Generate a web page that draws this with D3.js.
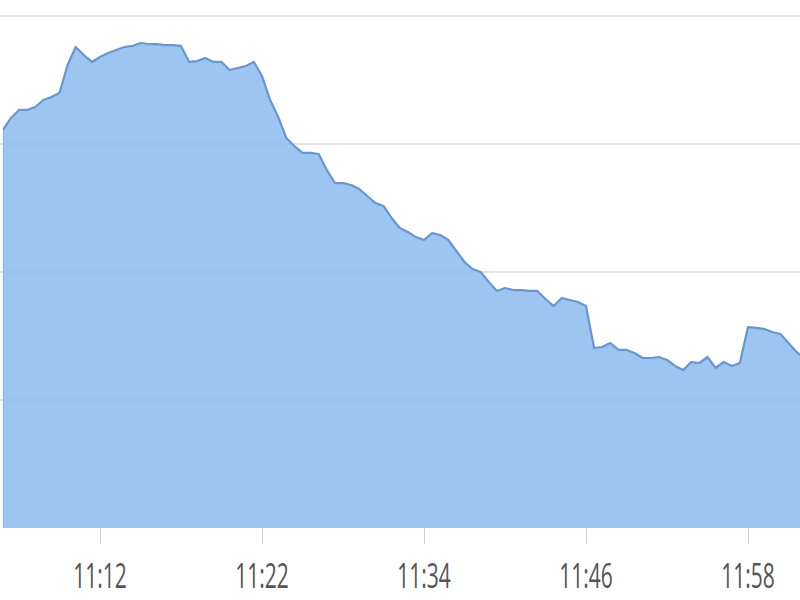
<!DOCTYPE html>
<html>
<head>
<meta charset="utf-8">
<script src="https://cdn.jsdelivr.net/npm/d3@7"></script>
<style>
  html, body { margin: 0; padding: 0; background: #fff; }
  svg { display: block; }
</style>
</head>
<body>
<svg id="chart" width="800" height="600"></svg>
<script>
// ---- data ----
const values = [
  310.9, 320.3, 326.6, 326.6, 328.9, 334.4, 336.7, 339.8, 361.7, 375.8,
  369.5, 364.1, 368.0, 371.1, 373.4, 375.8, 376.6, 378.9, 378.1, 378.1,
  377.3, 377.3, 376.6, 364.1, 364.8, 367.2, 364.1, 364.1, 357.8, 359.4,
  360.9, 364.1, 353.1, 334.4, 321.1, 304.7, 298.4, 293.0, 293.0, 292.2,
  279.7, 269.5, 269.5, 268.0, 264.8, 259.4, 253.9, 251.6, 242.2, 234.4,
  231.3, 227.3, 225.0, 230.5, 228.9, 225.0, 216.4, 207.8, 202.3, 200.0,
  192.2, 185.2, 187.5, 185.9, 185.9, 185.2, 185.2, 178.9, 173.4, 179.7,
  178.1, 176.6, 173.4, 140.6, 141.4, 144.5, 139.1, 139.1, 136.7, 132.8,
  132.8, 133.6, 131.3, 126.6, 123.4, 129.7, 128.9, 133.6, 125.0, 129.7,
  126.6, 128.9, 157.0, 156.3, 155.5, 153.1, 151.6, 144.5, 137.5, 132.8
];
const tickIndices = [12, 32, 52, 72, 92];
const tickLabels = ["11:12", "11:22", "11:34", "11:46", "11:58"];
const gridValues = [0, 100, 200, 300, 400];

(function () {
// ---- layout ----
const svg = d3.select("#chart");
const mLeft = 2.8, stepPx = 8.1, mRight = 800, mTop = 16, mBottom = 528;

const x = d3.scaleLinear()
  .domain([0, (mRight - mLeft) / stepPx])
  .range([mLeft, mRight]);
const y = d3.scaleLinear().domain([0, 400]).range([mBottom, mTop]);

svg.append("defs").append("clipPath").attr("id", "clip")
  .append("rect").attr("x", mLeft).attr("y", 0).attr("width", mRight - mLeft).attr("height", 600);

// gridlines
svg.append("g").selectAll("line").data(gridValues.filter(d => d > 0)).join("line")
  .attr("x1", 0).attr("x2", 800)
  .attr("y1", d => y(d)).attr("y2", d => y(d))
  .attr("stroke", "#e3e3e3").attr("stroke-width", 2);

// x axis ticks
const xAxis = d3.axisBottom(x)
  .tickValues(tickIndices)
  .tickFormat((d, i) => tickLabels[i])
  .tickSize(32)
  .tickPadding(0);
const axisG = svg.append("g").attr("transform", `translate(0,${mBottom - 16})`).call(xAxis);
axisG.select(".domain").remove();
axisG.selectAll(".tick line").attr("stroke", "#cfcfcf").attr("stroke-width", 1);
axisG.selectAll(".tick text").remove();

// labels (tall, narrow look)
svg.append("g").selectAll("text").data(tickIndices).join("text")
  .attr("transform", d => `translate(${x(d)},588) scale(1,1.65)`)
  .attr("text-anchor", "middle")
  .attr("font-family", "'Open Sans', 'DejaVu Sans', sans-serif")
  .attr("font-size", 21)
  .attr("fill", "#555")
  .text((d, i) => tickLabels[i]);

const g = svg.append("g").attr("clip-path", "url(#clip)");

const area = d3.area()
  .x((d, i) => x(i))
  .y0(y(0))
  .y1(d => y(d));
const line = d3.line()
  .x((d, i) => x(i))
  .y(d => y(d));

g.append("path").datum(values)
  .attr("d", area)
  .attr("fill", "rgb(150,193,240)")
  .attr("fill-opacity", 0.93);

g.append("path").datum(values)
  .attr("d", line)
  .attr("fill", "none")
  .attr("stroke", "rgb(105,150,205)")
  .attr("stroke-width", 2.2)
  .attr("stroke-linejoin", "round");

// left edge line
g.append("line")
  .attr("x1", mLeft + 0.5).attr("x2", mLeft + 0.5)
  .attr("y1", y(values[0])).attr("y2", mBottom)
  .attr("stroke", "rgb(130,175,225)").attr("stroke-width", 1);
})();
</script>
</body>
</html>
